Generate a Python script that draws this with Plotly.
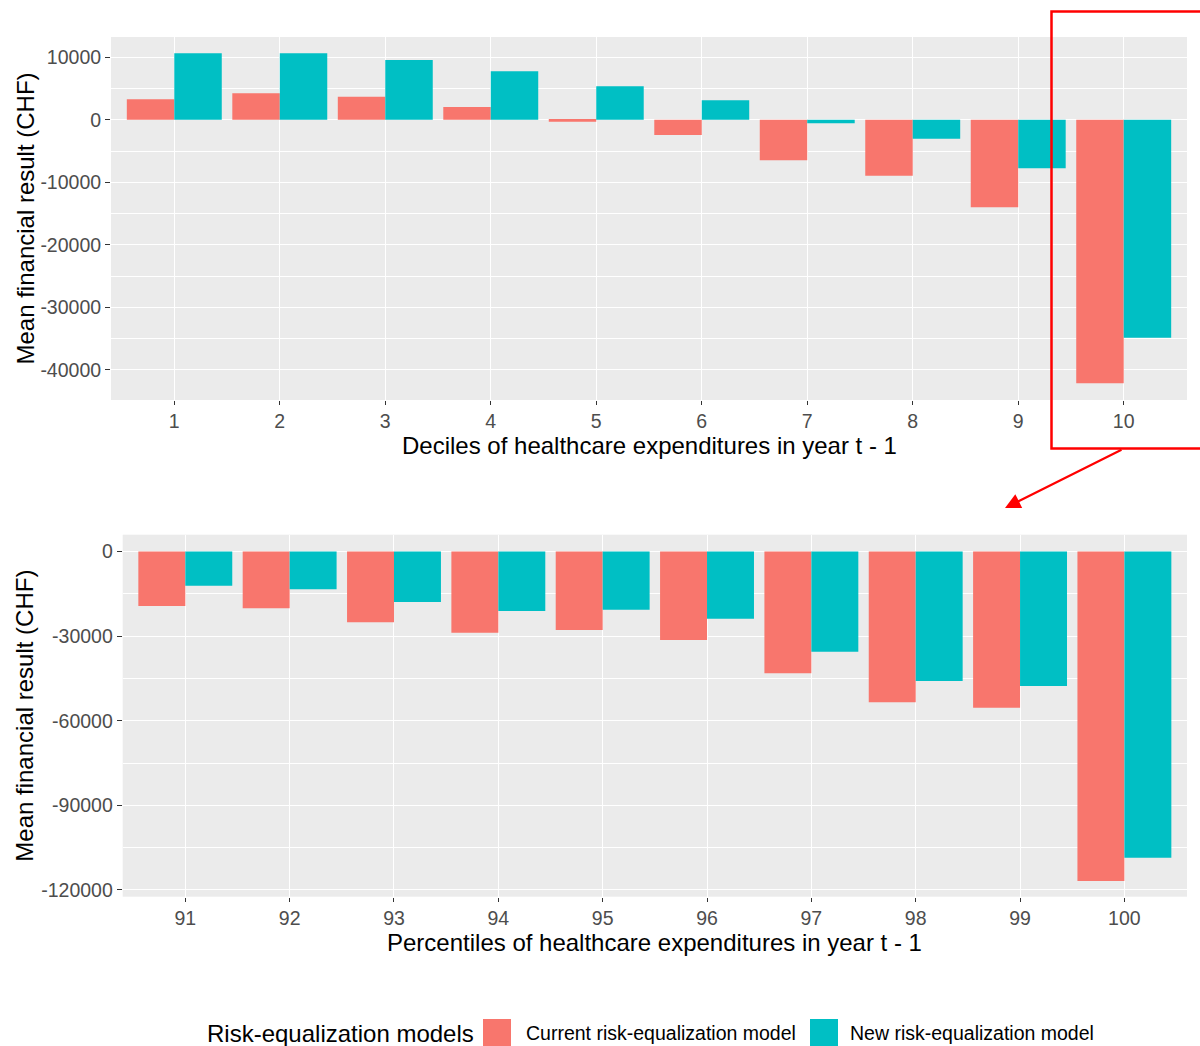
import plotly.graph_objects as go

# ---------------- data ----------------
deciles = ["1", "2", "3", "4", "5", "6", "7", "8", "9", "10"]
decile_current = [3280, 4240, 3700, 2050, -300, -2420, -6470, -8930, -13980, -42130]
decile_new = [10640, 10640, 9570, 7760, 5360, 3120, -550, -3010, -7750, -34840]

percentiles = ["91", "92", "93", "94", "95", "96", "97", "98", "99", "100"]
pct_current = [-19320, -20140, -25100, -28790, -27830, -31370, -43180, -53460, -55370, -116810]
pct_new = [-12120, -13400, -17900, -21090, -20630, -23820, -35520, -45910, -47680, -108550]

top_tick_values = [10000, 0, -10000, -20000, -30000, -40000]
top_tick_labels = ["10000", "0", "-10000", "-20000", "-30000", "-40000"]
bottom_tick_values = [0, -30000, -60000, -90000, -120000]
bottom_tick_labels = ["0", "-30000", "-60000", "-90000", "-120000"]

series_names = ["Current risk-equalization model", "New risk-equalization model"]
legend_title = "Risk-equalization models"
x_title_top = "Deciles of healthcare expenditures in year t - 1"
x_title_bottom = "Percentiles of healthcare expenditures in year t - 1"
y_title = "Mean financial result (CHF)"

RED = "#F8766D"
TEAL = "#00BFC4"
FONT = "Liberation Sans, Arial, sans-serif"

W, H = 1200, 1046


def px_x(p):
    return p / W


def px_y(p):
    return 1 - p / H


fig = go.Figure()

fig.add_trace(go.Bar(x=deciles, y=decile_current, name=series_names[0], marker_color=RED,
                     marker_line_width=0, xaxis="x", yaxis="y", showlegend=False))
fig.add_trace(go.Bar(x=deciles, y=decile_new, name=series_names[1], marker_color=TEAL,
                     marker_line_width=0, xaxis="x", yaxis="y", showlegend=False))
fig.add_trace(go.Bar(x=percentiles, y=pct_current, name=series_names[0], marker_color=RED,
                     marker_line_width=0, xaxis="x2", yaxis="y2", showlegend=False))
fig.add_trace(go.Bar(x=percentiles, y=pct_new, name=series_names[1], marker_color=TEAL,
                     marker_line_width=0, xaxis="x2", yaxis="y2", showlegend=False))

tickfont = dict(family=FONT, size=19.5, color="#4D4D4D")
common_x = dict(type="category", range=[-0.6, 9.6], showgrid=True, gridcolor="white", gridwidth=1.2,
                ticks="outside", ticklen=4, tickcolor="#333333", tickwidth=1.2, tickfont=tickfont,
                zeroline=False, showline=False, automargin=False, fixedrange=True)
common_y = dict(showgrid=True, gridcolor="white", gridwidth=1.2, ticks="outside", ticklen=5,
                tickcolor="#333333", tickwidth=1.2, tickfont=tickfont, zeroline=False,
                showline=False, automargin=False, tickmode="array")

top_x_dom = [px_x(111), px_x(1187)]
top_y_dom = [px_y(400), px_y(37)]
bot_x_dom = [px_x(122.7), px_x(1187)]
bot_y_dom = [px_y(896.7), px_y(534.7)]

fig.update_layout(
    width=W, height=H,
    margin=dict(l=0, r=0, t=0, b=0),
    paper_bgcolor="white",
    plot_bgcolor="#EBEBEB",
    barmode="group", bargap=0.1, bargroupgap=0,
    font=dict(family=FONT),
    showlegend=False,
    xaxis=dict(common_x, domain=top_x_dom, anchor="y"),
    yaxis=dict(common_y, domain=top_y_dom, anchor="x", range=[-44800, 13250],
               tickvals=top_tick_values, ticktext=top_tick_labels,
               minor=dict(dtick=5000, tick0=0, showgrid=True, gridcolor="white", gridwidth=0.8, ticks="")),
    xaxis2=dict(common_x, domain=bot_x_dom, anchor="y2"),
    yaxis2=dict(common_y, domain=bot_y_dom, anchor="x2", range=[-122380, 5950],
                tickvals=bottom_tick_values, ticktext=bottom_tick_labels,
                minor=dict(dtick=15000, tick0=0, showgrid=True, gridcolor="white", gridwidth=0.8, ticks="")),
)

title_font = dict(family=FONT, size=24, color="black")
ann = []
# axis titles
ann.append(dict(text=y_title, xref="paper", yref="paper", x=px_x(25), y=px_y(218.5), textangle=-90,
                showarrow=False, font=title_font, xanchor="center", yanchor="middle"))
ann.append(dict(text=y_title, xref="paper", yref="paper", x=px_x(25), y=px_y(715.7), textangle=-90,
                showarrow=False, font=title_font, xanchor="center", yanchor="middle"))
ann.append(dict(text=x_title_top, xref="paper", yref="paper", x=px_x(649), y=px_y(445),
                showarrow=False, font=title_font, xanchor="center", yanchor="middle"))
ann.append(dict(text=x_title_bottom, xref="paper", yref="paper", x=px_x(655), y=px_y(942),
                showarrow=False, font=title_font, xanchor="center", yanchor="middle"))
# legend
ann.append(dict(text=legend_title, xref="paper", yref="paper", x=px_x(205), y=px_y(1033),
                showarrow=False, font=title_font, xanchor="left", yanchor="middle"))
legend_font = dict(family=FONT, size=19.5, color="black")
ann.append(dict(text=series_names[0], xref="paper", yref="paper", x=px_x(524), y=px_y(1033),
                showarrow=False, font=legend_font, xanchor="left", yanchor="middle"))
ann.append(dict(text=series_names[1], xref="paper", yref="paper", x=px_x(848), y=px_y(1033),
                showarrow=False, font=legend_font, xanchor="left", yanchor="middle"))
# arrow from highlight box to lower panel
ann.append(dict(text="", xref="paper", yref="paper", x=px_x(1005), y=px_y(508), ax=118, ay=-59,
                showarrow=True, arrowhead=2, arrowsize=1.4, arrowwidth=2.2, arrowcolor="#FF0000",
                standoff=0))
fig.update_layout(annotations=ann)

shapes = []
shapes.append(dict(type="rect", xref="paper", yref="paper", x0=px_x(483), x1=px_x(511),
                   y0=px_y(1047), y1=px_y(1019), fillcolor=RED, line=dict(width=0), layer="above"))
shapes.append(dict(type="rect", xref="paper", yref="paper", x0=px_x(810), x1=px_x(838),
                   y0=px_y(1047), y1=px_y(1019), fillcolor=TEAL, line=dict(width=0), layer="above"))
shapes.append(dict(type="rect", xref="paper", yref="paper", x0=px_x(1051.5), x1=px_x(1215),
                   y0=px_y(448.5), y1=px_y(11.5), line=dict(color="#FF0000", width=2.5),
                   fillcolor="rgba(0,0,0,0)", layer="above"))
fig.update_layout(shapes=shapes)

fig.write_html("out.html", config={"displayModeBar": False},
               post_script="document.body.style.margin='0';document.body.style.overflow='hidden';")
